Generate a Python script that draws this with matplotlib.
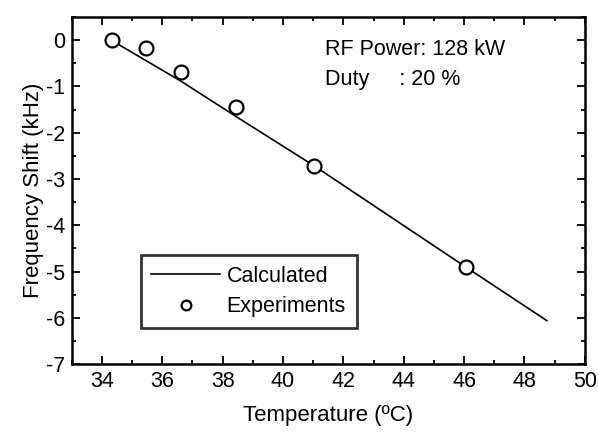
import matplotlib
matplotlib.use('Agg')
import matplotlib.pyplot as plt
from matplotlib.ticker import MultipleLocator

plt.rcParams['font.family'] = ['Liberation Sans', 'DejaVu Sans']
plt.rcParams['axes.unicode_minus'] = False

# measured points
temp_exp = [34.34, 35.45, 36.63, 38.44, 41.04, 46.05]
shift_exp = [0.0, -0.17, -0.70, -1.44, -2.72, -4.90]

# calculated curve
temp_calc = [34.3, 36.6, 38.44, 41.04, 46.05, 48.74]
shift_calc = [0.0, -0.88, -1.65, -2.72, -4.90, -6.06]

fig = plt.figure(figsize=(5.98, 4.34), dpi=100)
ax = fig.add_axes([0.120, 0.161, 0.858, 0.800])

ax.plot(temp_calc, shift_calc, color='black', linewidth=1.2, label='Calculated')
ax.plot(temp_exp, shift_exp, linestyle='none', marker='o', markersize=10,
        markerfacecolor='white', markeredgecolor='black', markeredgewidth=1.6,
        label='Experiments')

ax.set_xlim(33, 50)
ax.set_ylim(-7, 0.5)
ax.xaxis.set_major_locator(MultipleLocator(2))
ax.xaxis.set_minor_locator(MultipleLocator(1))
ax.yaxis.set_major_locator(MultipleLocator(1))
ax.yaxis.set_minor_locator(MultipleLocator(0.5))
ax.tick_params(which='both', direction='in', top=True, right=True, labelsize=15.5, width=1.3)
ax.tick_params(which='major', length=6, pad=5)
ax.tick_params(which='minor', length=3)
for s in ax.spines.values():
    s.set_linewidth(1.8)

ax.set_xlabel('Temperature (ºC)', fontsize=16, labelpad=9)
ax.set_ylabel('Frequency Shift (kHz)', fontsize=16, labelpad=1)

ax.text(41.4, -0.20, 'RF Power: 128 kW', fontsize=15.5, va='center')
ax.text(41.4, -0.86, 'Duty     : 20 %', fontsize=15.5, va='center')

leg = ax.legend(loc='lower left', bbox_to_anchor=(0.134, 0.104), borderaxespad=0,
                fontsize=15.5, frameon=True, fancybox=False, edgecolor='black',
                handlelength=3.2, handletextpad=0.3, borderpad=0.5,
                labelspacing=0.45)
leg.get_frame().set_linewidth(2.0)
leg.legend_handles[1].set_markersize(7)

fig.savefig('out.png', dpi=100)
